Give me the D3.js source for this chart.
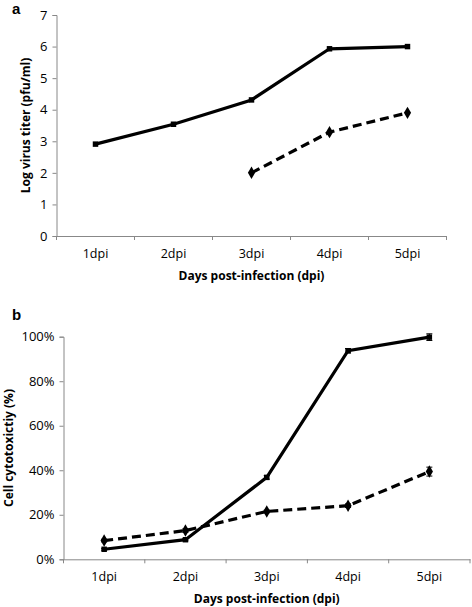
<!doctype html>
<html>
<head>
<style>
  body { margin: 0; background: #fff; }
  text { font-family: "Open Sans", "Liberation Sans", sans-serif; fill: #000; }
</style>
</head>
<body>
    <div class="container"></div>

    <script src="https://d3js.org/d3.v7.min.js"></script>

    <script>
        const days = ['1dpi', '2dpi', '3dpi', '4dpi', '5dpi'];

        // panel a - log virus titer
        const titerSolid = [2.91, 3.54, 4.31, 5.93, 6.0];
        const titerDashed = [null, null, 2.0, 3.29, 3.9];
        const titerTicks = [0, 1, 2, 3, 4, 5, 6, 7];

        // panel b - cell cytotoxicity
        const cytoSolid = [0.045, 0.088, 0.368, 0.937, 0.998];
        const cytoSolidErr = [0.004, 0.005, 0.008, 0.01, 0.015];
        const cytoDashed = [0.084, 0.129, 0.215, 0.241, 0.394];
        const cytoDashedErr = [0.006, 0.008, 0.006, 0.008, 0.02];
        const cytoTicks = [0, 0.2, 0.4, 0.6, 0.8, 1.0];

        const svg = d3.select('.container').append('svg').attr('width', 472).attr('height', 607);

        const drawPanel = (opt) => {
            const g = svg.append('g');
            const x = d3.scaleBand().domain(days).range([opt.x0, opt.x1]);
            const y = d3.scaleLinear().domain(opt.domain).range([opt.yBottom, opt.yTop]);

            // y axis
            const ya = g.append('g').attr('transform', `translate(${opt.x0},0)`)
                .call(d3.axisLeft(y).tickValues(opt.ticks).tickSize(4).tickPadding(5).tickFormat(opt.fmt));
            ya.selectAll('text').style('font-size', '13px');
            // x axis
            const xa = g.append('g').attr('transform', `translate(0,${opt.yBottom})`)
                .call(d3.axisBottom(x).tickSize(0).tickPadding(13));
            xa.selectAll('text').style('font-size', '12.5px');
            // outer ticks between categories
            xa.selectAll('.cat-tick').data(days.concat(['end'])).enter().append('line')
                .attr('x1', (d, i) => opt.x0 + i * x.step()).attr('x2', (d, i) => opt.x0 + i * x.step())
                .attr('y1', 0).attr('y2', 4).attr('stroke', '#888');
            g.selectAll('.domain, .tick line').attr('stroke', '#888');

            g.append('text').attr('x', (opt.x0 + opt.x1) / 2).attr('y', opt.xTitleY)
                .attr('text-anchor', 'middle').style('font-size', '12px').style('font-weight', 'bold')
                .text('Days post-infection (dpi)');
            g.append('text').attr('transform', `translate(${opt.yTitleX},${(opt.yTop + opt.yBottom) / 2}) rotate(-90)`)
                .attr('text-anchor', 'middle').style('font-size', '12px').style('font-weight', 'bold')
                .text(opt.yTitle);
            g.append('text').attr('x', 12).attr('y', opt.letterY)
                .style('font-family', '"Liberation Sans", Arial, sans-serif')
                .style('font-size', '15px').style('font-weight', 'bold').text(opt.letter);

            const cx = d => x(d) + x.bandwidth() / 2;
            const series = [
                { vals: opt.solid, err: opt.solidErr, dash: null, shape: d3.symbolSquare, size: 30 },
                { vals: opt.dashed, err: opt.dashedErr, dash: '9,5', shape: d3.symbolDiamond, size: 45 }
            ];
            series.forEach(s => {
                const pts = days.map((d, i) => ({ d, v: s.vals[i], e: s.err ? s.err[i] : 0 })).filter(p => p.v != null);
                const line = d3.line().x(p => cx(p.d)).y(p => y(p.v));
                g.append('path').datum(pts).attr('d', line).attr('fill', 'none')
                    .attr('stroke', '#000').attr('stroke-width', 3.2)
                    .attr('stroke-dasharray', s.dash);
                if (s.err) {
                    const eb = g.selectAll(null).data(pts).enter().append('g');
                    eb.append('line').attr('x1', p => cx(p.d)).attr('x2', p => cx(p.d))
                        .attr('y1', p => y(p.v - p.e)).attr('y2', p => y(p.v + p.e))
                        .attr('stroke', '#000').attr('stroke-width', 1);
                    [-1, 1].forEach(sg => {
                        eb.append('line').attr('x1', p => cx(p.d) - 3).attr('x2', p => cx(p.d) + 3)
                            .attr('y1', p => y(p.v + sg * p.e)).attr('y2', p => y(p.v + sg * p.e))
                            .attr('stroke', '#000').attr('stroke-width', 1);
                    });
                }
                g.selectAll(null).data(pts).enter().append('path')
                    .attr('d', d3.symbol().type(s.shape).size(s.size))
                    .attr('transform', p => `translate(${cx(p.d)},${y(p.v)})`)
                    .attr('fill', '#000');
            });
        };

        drawPanel({
            letter: 'a', letterY: 14,
            x0: 56.5, x1: 446.5, yTop: 15, yBottom: 236,
            domain: [0, 7], ticks: titerTicks, fmt: d3.format('d'),
            solid: titerSolid, dashed: titerDashed,
            yTitle: 'Log virus titer (pfu/ml)', yTitleX: 30, xTitleY: 280
        });

        drawPanel({
            letter: 'b', letterY: 320,
            x0: 63.5, x1: 470, yTop: 336.7, yBottom: 559.3,
            domain: [0, 1], ticks: cytoTicks, fmt: d3.format('.0%'),
            solid: cytoSolid, solidErr: cytoSolidErr, dashed: cytoDashed, dashedErr: cytoDashedErr,
            yTitle: 'Cell cytotoxictiy (%)', yTitleX: 13, xTitleY: 603
        });
    </script>
</body>
</html>
